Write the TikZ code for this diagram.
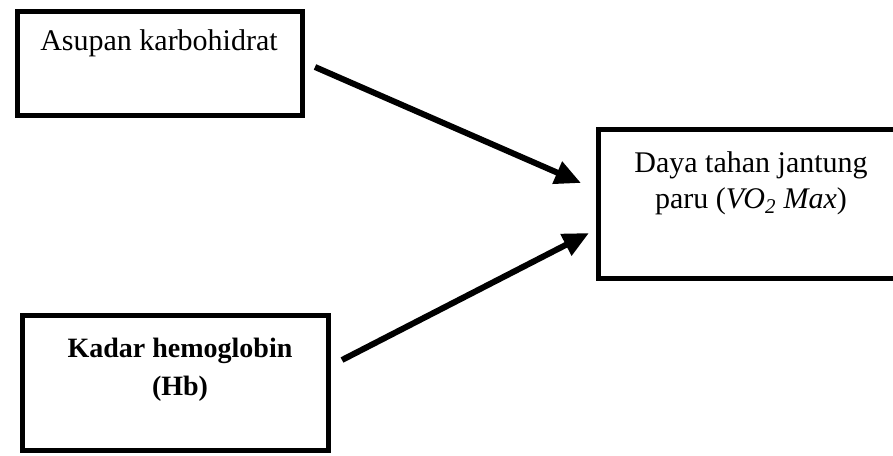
\documentclass[tikz,border=0pt]{standalone}
\usepackage{fontspec}
\setmainfont{Liberation Serif}
\usetikzlibrary{arrows.meta}
\begin{document}
\begin{tikzpicture}[x=1pt,y=-1pt,
  boxstyle/.style={draw=black, line width=5pt, rectangle, inner sep=0pt, fill=none},
  lbl/.style={anchor=base, align=center, inner sep=0pt},
  arr/.style={line width=6pt, -{Triangle[length=26pt,width=23pt]}}]
\useasboundingbox[fill=white] (0,0) rectangle (893,455);
% boxes
\node[boxstyle, minimum width=285pt, minimum height=104pt] (b1) at (160,63.5) {};
\node[boxstyle, minimum width=306.5pt, minimum height=149pt] (b2) at (751.75,204) {};
\node[boxstyle, minimum width=306pt, minimum height=135pt] (b3) at (175.5,383) {};
% labels (base anchor = baseline of the last line)
\node[lbl, font=\fontsize{30}{36}\selectfont] (t1) at (159,50) {Asupan karbohidrat};
\node[lbl, font=\fontsize{30}{36}\selectfont] (t2) at (751,208) {Daya tahan jantung\\paru ({\itshape VO}\textsubscript{\itshape 2} {\itshape Max})};
\node[lbl, font=\bfseries\fontsize{28}{38}\selectfont] (t3) at (180,395) {Kadar hemoglobin\\(Hb)};
% arrows
\coordinate (a1s) at (315,67);
\coordinate (a1e) at (581,183);
\coordinate (a2s) at (342,360);
\coordinate (a2e) at (589,233);
\draw[arr] (a1s) -- (a1e);
\draw[arr] (a2s) -- (a2e);
\end{tikzpicture}
\end{document}
